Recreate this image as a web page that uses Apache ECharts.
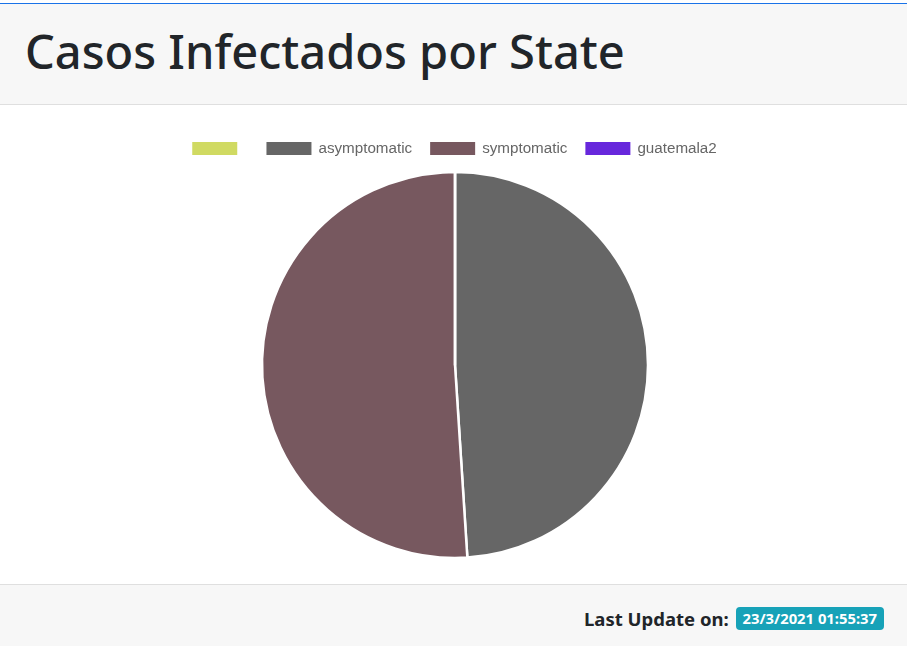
<!DOCTYPE html>
<html><head><meta charset="utf-8">
<script src="https://cdn.jsdelivr.net/npm/echarts@6/dist/echarts.min.js"></script>
<style>
html,body{margin:0;padding:0;width:907px;height:646px;overflow:hidden;background:#fff;font-family:"Noto Sans",sans-serif;}
#topline{position:absolute;left:0;top:3px;width:907px;height:1px;background:#1a73e8;}
#header{position:absolute;left:0;top:4px;width:907px;height:100px;background:#f7f7f7;border-bottom:1px solid #dfdfdf;}
#header h1{margin:0;position:absolute;left:25px;top:17px;font-size:47px;font-weight:500;color:#212529;line-height:60px;}
#chart{position:absolute;left:0;top:105px;width:907px;height:479px;}
#footer{position:absolute;left:0;top:584px;width:907px;height:62px;background:#f7f7f7;border-top:1px solid #dfdfdf;}
#footer .txt{position:absolute;right:23px;top:22px;font-size:18.5px;font-weight:700;color:#212529;line-height:24px;white-space:nowrap;}
.badge{display:inline-block;background:#17a2b8;color:#fff;font-size:14.8px;font-weight:700;padding:2px 7px;border-radius:4px;line-height:19px;vertical-align:2px;margin-left:2px;}
</style></head>
<body>
<div id="topline"></div>
<div id="header"><h1>Casos Infectados por State</h1></div>
<div id="chart"></div>
<div id="footer"><div class="txt">Last Update on: <span class="badge">23/3/2021 01:55:37</span></div></div>
<script>
const categories = ["", "asymptomatic", "symptomatic", "guatemala2"];
const values = [0, 48, 50, 0];
const colors = ["#d0da62", "#666666", "#77585f", "#6727dc"];

// ECharts treats an empty legend name as a line break, so use a space for the unnamed category
const names = categories.map(c => c === "" ? " " : c);

const chart = echarts.init(document.getElementById('chart'));
chart.setOption({
  animation: false,
  color: colors,
  legend: {
    top: 30, left: 'center',
    icon: 'rect', itemWidth: 47, itemHeight: 15, itemGap: 16,
    data: names,
    textStyle: {fontFamily: 'Liberation Sans, Arial', fontSize: 15.2, color: '#666', padding: [0,0,0,1]}
  },
  series: [{
    type: 'pie',
    center: [455, 260],
    radius: [0, 193],
    startAngle: 90,
    clockwise: true,
    label: {show: false},
    labelLine: {show: false},
    itemStyle: {borderColor: '#fff', borderWidth: 2.5},
    emphasis: {disabled: true},
    data: names.map((c, i) => ({name: c, value: values[i]}))
  }]
});
</script>
</body></html>
